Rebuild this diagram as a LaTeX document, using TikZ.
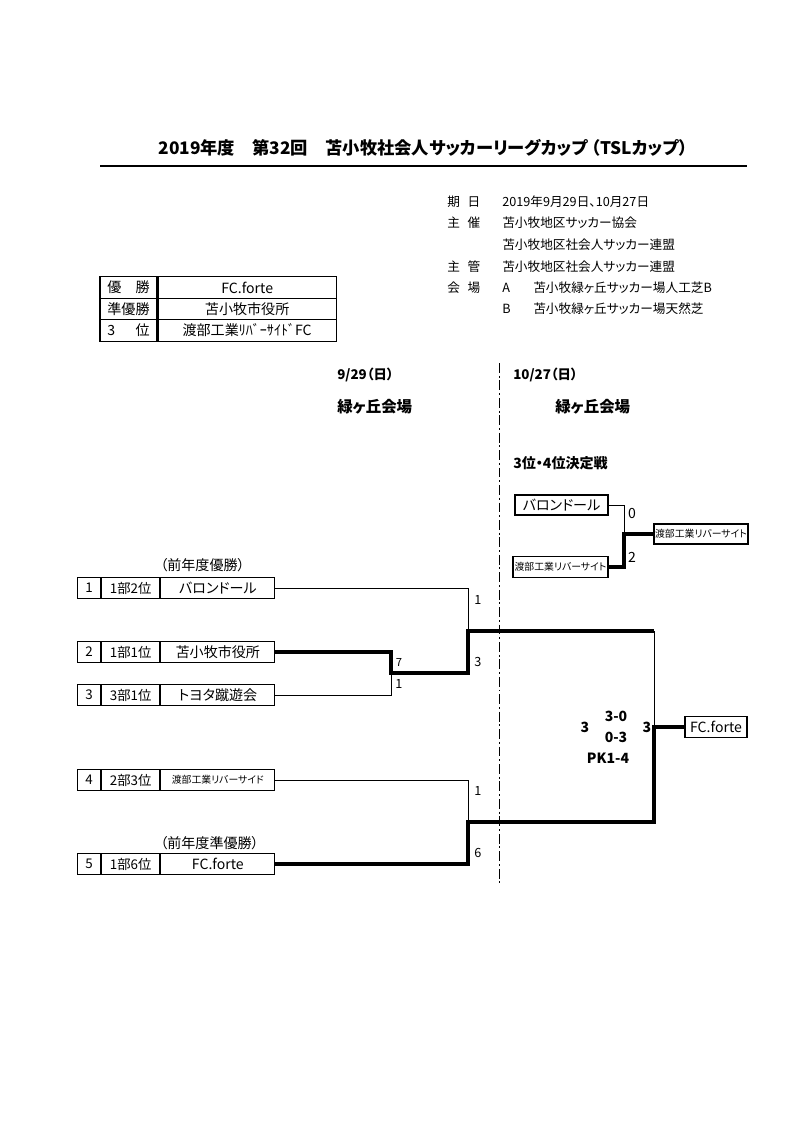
\documentclass[tikz,border=0pt]{standalone}
\usepackage{fontspec}
\setmainfont{Noto Sans CJK JP}[RawFeature=+palt]
\usetikzlibrary{positioning}

\begin{document}
\begin{tikzpicture}[x=0.025cm,y=-0.025cm,
    every node/.style={inner sep=0pt},
    cell/.style={draw,line width=0.8pt,minimum height=0.525cm,font=\fontsize{9.5}{11}\selectfont},
    numcell/.style={cell,minimum width=0.575cm},
    rankcell/.style={cell,minimum width=1.45cm},
    teamcell/.style={cell,minimum width=2.85cm,font=\fontsize{10}{12}\selectfont},
    tabhead/.style={cell,minimum width=1.425cm,minimum height=0.5375cm,font=\fontsize{10}{12}\selectfont},
    tabval/.style={cell,minimum width=4.45cm,minimum height=0.5375cm,font=\fontsize{10}{12}\selectfont},
    tbox/.style={cell,minimum height=0.5cm,font=\fontsize{10}{12}\selectfont},
    infotext/.style={anchor=west,font=\fontsize{9}{11}\selectfont},
    dayhead/.style={anchor=west,font=\fontsize{9.5}{11}\selectfont\bfseries},
    venue/.style={anchor=west,font=\fontsize{11}{13}\selectfont\bfseries},
    note/.style={anchor=west,font=\fontsize{10}{12}\selectfont},
    score/.style={font=\fontsize{9}{10}\selectfont},
    bigscore/.style={font=\fontsize{10}{12}\selectfont\bfseries},
    loser/.style={line width=0.7pt},
    winner/.style={line width=2.8pt},
    divider/.style={line width=0.7pt,dash pattern=on 7pt off 2pt on 1.4pt off 2pt}]

  \useasboundingbox (0,0) rectangle (800,1132);

  % title
  \node[font=\fontsize{12.3}{14}\selectfont\bfseries] (title) at (423,148)
    {2019年度　第32回　苫小牧社会人サッカーリーグカップ （TSLカップ）};
  \coordinate (rulel) at (100,166);
  \coordinate (ruler) at (747,166);
  \draw[line width=2pt] (rulel) -- (ruler);

  % information
  \node[infotext] (lab1) at (447,202) {\makebox[2.6em][s]{期\hfill 日}};
  \node[infotext] (lab2) at (447,223) {\makebox[2.6em][s]{主\hfill 催}};
  \node[infotext] (lab3) at (447,267) {\makebox[2.6em][s]{主\hfill 管}};
  \node[infotext] (lab4) at (447,288) {\makebox[2.6em][s]{会\hfill 場}};
  \node[infotext] (val1) at (502,202) {2019年9月29日、10月27日};
  \node[infotext] (val2) at (502,223) {苫小牧地区サッカー協会};
  \node[infotext] (val3) at (502,245) {苫小牧地区社会人サッカー連盟};
  \node[infotext] (val4) at (502,267) {苫小牧地区社会人サッカー連盟};
  \node[infotext] (siteA) at (502,288) {A};
  \node[infotext] (siteB) at (502,309) {B};
  \node[infotext] (val5) at (533,288) {苫小牧緑ヶ丘サッカー場人工芝B};
  \node[infotext] (val6) at (533,309) {苫小牧緑ヶ丘サッカー場天然芝};

  % results
  \node[tabhead] (h1) at (128.5,287.5) {\makebox[3em][s]{優\hfill 勝}};
  \node[tabval,right=0pt of h1] (v1) {FC.forte};
  \node[tabhead] (h2) at (128.5,309) {準優勝};
  \node[tabval,right=0pt of h2] (v2) {苫小牧市役所};
  \node[tabhead] (h3) at (128.5,330.5) {\makebox[3em][s]{3\hfill 位}};
  \node[tabval,right=0pt of h3] (v3) {渡部工業ﾘﾊﾞｰｻｲﾄﾞFC};

  % headings
  \node[dayhead] (day1) at (337,375) {9/29（日）};
  \node[dayhead] (day2) at (513,375) {10/27（日）};
  \node[venue] (ven1) at (337,407) {緑ヶ丘会場};
  \node[venue] (ven2) at (555,407) {緑ヶ丘会場};
  \node[dayhead,font=\fontsize{10}{12}\selectfont\bfseries] (third) at (513,463) {3位・4位決定戦};

  \coordinate (d1) at (499,363);
  \coordinate (d2) at (499,886);
  \draw[divider] (d1) -- (d2);

  % entries
  \node[note] (prev1) at (160,565) {（前年度優勝）};
  \node[numcell,anchor=west] (n1) at (77,588) {1};
  \node[rankcell,right=0pt of n1] (r1) {1部2位};
  \node[teamcell,right=0pt of r1] (t1) {バロンドール};

  \node[numcell,anchor=west] (n2) at (77,652) {2};
  \node[rankcell,right=0pt of n2] (r2) {1部1位};
  \node[teamcell,right=0pt of r2] (t2) {苫小牧市役所};

  \node[numcell,anchor=west] (n3) at (77,695) {3};
  \node[rankcell,right=0pt of n3] (r3) {3部1位};
  \node[teamcell,right=0pt of r3] (t3) {トヨタ蹴遊会};

  \node[numcell,anchor=west] (n4) at (77,780) {4};
  \node[rankcell,right=0pt of n4] (r4) {2部3位};
  \node[teamcell,right=0pt of r4,font=\fontsize{7}{8}\selectfont] (t4) {渡部工業リバーサイド};

  \node[note] (prev2) at (160,843) {（前年度準優勝）};
  \node[numcell,anchor=west] (n5) at (77,864) {5};
  \node[rankcell,right=0pt of n5] (r5) {1部6位};
  \node[teamcell,right=0pt of r5] (t5) {FC.forte};

  % bracket
  \coordinate (q1) at (391,673);
  \coordinate (s1) at (468,631);
  \coordinate (s2) at (468,822);
  \coordinate (f1) at (654,631);
  \coordinate (f0) at (654,727);
  \coordinate (f2) at (654,822);
  \node[cell,minimum width=1.55cm,font=\fontsize{10}{12}\selectfont] (champ) at (716,727) {FC.forte};

  \draw[loser] (t1.east) -| (s1);
  \draw[loser] (t3.east) -| (q1);
  \draw[loser] (t4.east) -| (s2);
  \draw[loser] (f1) -- (f0);
  \draw[winner] (t2.east) -| (q1) -| (s1) -- (f1);
  \draw[winner] (t5.east) -| (s2) -- (f2) |- (champ.west);

  \node[score] (sc1) at (478,600) {1};
  \node[score] (sc2) at (478,662) {3};
  \node[score,font=\fontsize{8}{9}\selectfont] (sc3) at (399,662) {7};
  \node[score] (sc4) at (399,684) {1};
  \node[score] (sc5) at (478,791) {1};
  \node[score] (sc6) at (478,853) {6};

  \node[bigscore] (fa) at (585,727) {3};
  \node[bigscore] (fb) at (616,716) {3-0};
  \node[bigscore] (fc) at (616,737) {0-3};
  \node[bigscore] (fd) at (608,758) {PK1-4};
  \node[bigscore] (fe) at (647,727) {3};

  % third place
  \node[tbox,minimum width=2.325cm] (tp1) at (561.5,505) {バロンドール};
  \node[tbox,minimum width=2.375cm,minimum height=0.525cm,font=\fontsize{7}{8}\selectfont] (tp2) at (560.5,567) {渡部工業リバーサイト};
  \node[tbox,minimum width=2.35cm,font=\fontsize{7}{8}\selectfont] (tpw) at (701,534) {渡部工業リバーサイト};
  \coordinate (k) at (624,534);
  \draw[loser] (tp1.east) -| (k);
  \draw[winner] (tp2.east) -| (k) -- (tpw.west);
  \node[score,font=\fontsize{10}{12}\selectfont] (tsa) at (632,513) {0};
  \node[score,font=\fontsize{10}{12}\selectfont] (tsb) at (632,557) {2};
\end{tikzpicture}
\end{document}
